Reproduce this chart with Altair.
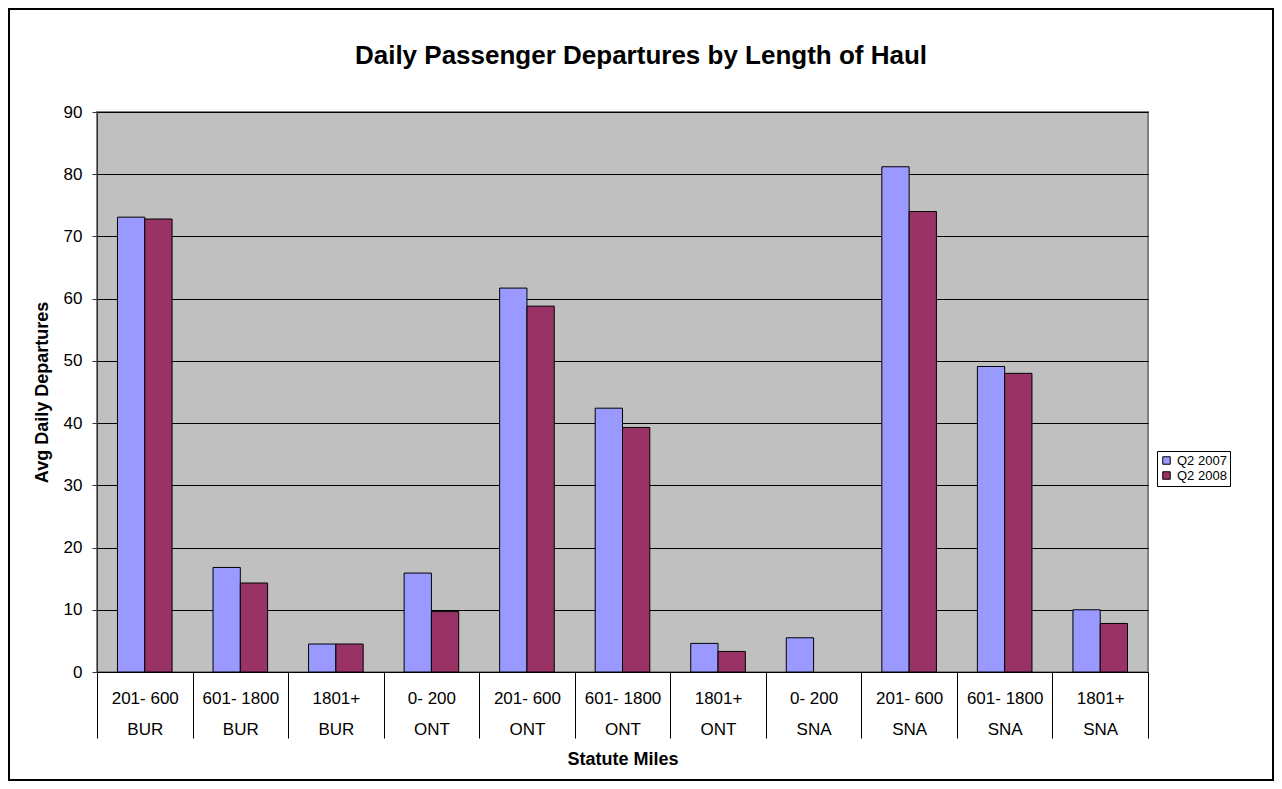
import altair as alt
import pandas as pd

airports = ["BUR", "BUR", "BUR", "ONT", "ONT", "ONT", "ONT", "SNA", "SNA", "SNA", "SNA"]
hauls = ["201- 600", "601- 1800", "1801+", "0- 200", "201- 600", "601- 1800",
         "1801+", "0- 200", "201- 600", "601- 1800", "1801+"]
q2_2007 = [73.1, 16.8, 4.5, 15.9, 61.7, 42.4, 4.6, 5.5, 81.2, 49.1, 10.0]
q2_2008 = [72.8, 14.3, 4.5, 9.7, 58.8, 39.3, 3.3, None, 74.0, 48.0, 7.8]
series = ["Q2 2007", "Q2 2008"]
colors = ["#9999FF", "#993366"]
y_ticks = [0, 10, 20, 30, 40, 50, 60, 70, 80, 90]

rows = []
for h, a, v1, v2 in zip(hauls, airports, q2_2007, q2_2008):
    key = f"{h}|{a}"
    for s, v in zip(series, [v1, v2]):
        if v is not None:
            rows.append({"cat": key, "series": s, "value": v})
df = pd.DataFrame(rows)
order = [f"{h}|{a}" for h, a in zip(hauls, airports)]

W, H = 1051, 560
FONT = "Liberation Sans"

bars = alt.Chart(df).mark_bar(stroke="black", strokeWidth=1).encode(
    x=alt.X(
        "cat:N", sort=order,
        scale=alt.Scale(paddingInner=0, paddingOuter=0),
        axis=alt.Axis(
            title="Statute Miles",
            labelExpr="split(datum.label, '|')",
            labelAngle=0, labelFontSize=17, labelLineHeight=31,
            labelBaseline="top", labelPadding=-48, labelColor="black",
            tickBand="extent", tickSize=66, tickColor="black", tickWidth=1,
            domainColor="black", domainWidth=1,
            titleFontSize=18, titleFontWeight="bold", titleColor="black",
            titleX=W / 2, titleY=87, titleBaseline="middle",
        ),
    ),
    xOffset=alt.XOffset("series:N", sort=series,
                        scale=alt.Scale(paddingInner=0, paddingOuter=0.75)),
    y=alt.Y(
        "value:Q",
        scale=alt.Scale(domain=[0, 90], nice=False),
        axis=alt.Axis(
            values=y_ticks, title="Avg Daily Departures",
            labelFontSize=17, labelPadding=10, labelColor="black",
            tickSize=5, tickColor="#333333", domainColor="#333333",
            grid=True, gridColor="black", gridWidth=1,
            titleFontSize=18, titleFontWeight="bold", titleColor="black",
            titleX=-55, titleY=H / 2, titleAngle=270,
            titleBaseline="middle", titleAlign="center",
        ),
    ),
    color=alt.Color(
        "series:N",
        scale=alt.Scale(domain=series, range=colors),
        legend=alt.Legend(
            title=None, orient="none", legendX=W + 9, legendY=339,
            direction="vertical", fillColor="white", strokeColor="black",
            padding=3, symbolType="square", symbolSize=56,
            symbolStrokeColor="black", symbolStrokeWidth=1,
            labelFontSize=13, labelColor="black", rowPadding=1,
            labelOffset=4,
        ),
    ),
)

frame = alt.Chart(pd.DataFrame({"a": [0]})).mark_rect(
    fill="white", fillOpacity=0, stroke="black", strokeWidth=2
).encode(
    x=alt.value(-88), x2=alt.value(W + 125),
    y=alt.value(-103), y2=alt.value(H + 108),
)

chart = alt.layer(bars, frame).properties(
    width=W, height=H,
    title=alt.TitleParams(
        "Daily Passenger Departures by Length of Haul",
        fontSize=26, fontWeight="bold", font=FONT, color="black",
        anchor="middle", frame="group", dx=18.5, offset=0, dy=61,
    ),
    autosize=alt.AutoSizeParams(type="none"),
    padding={"left": 89, "top": 104, "right": 126, "bottom": 109},
).configure(
    font=FONT, background="white",
).configure_view(
    fill="#C0C0C0", stroke="#808080", strokeWidth=2,
)

chart.save("out.html", embed_options={"renderer": "svg", "actions": False})
